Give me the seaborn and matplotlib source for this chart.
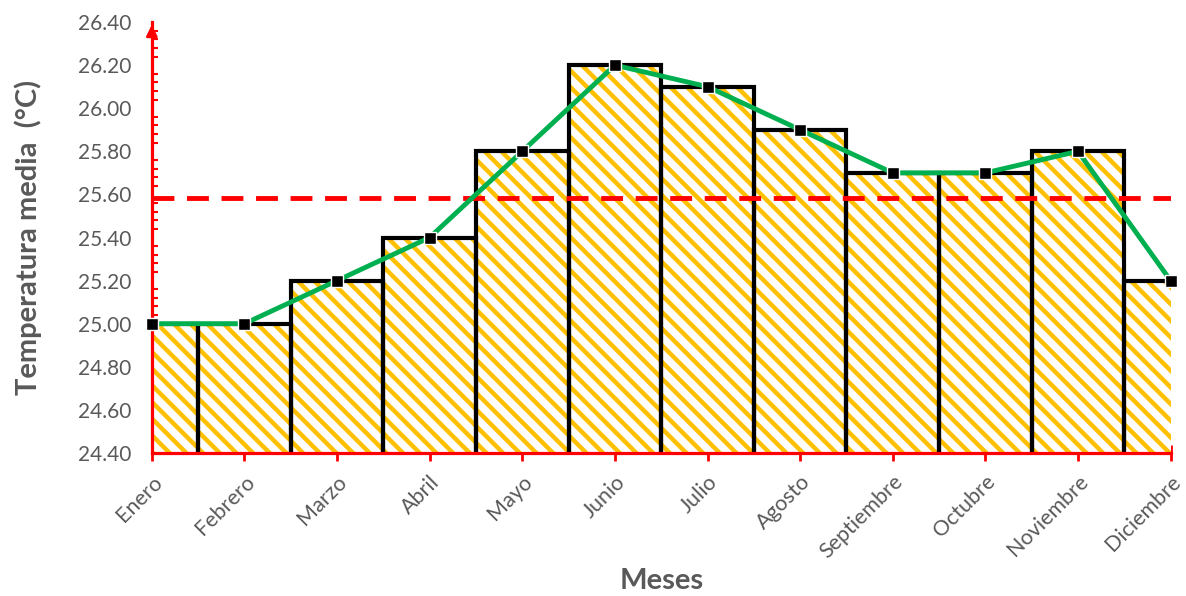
import numpy as np
import pandas as pd
import matplotlib
matplotlib.use("Agg")
import matplotlib.pyplot as plt
from matplotlib.ticker import MultipleLocator, FormatStrFormatter
import seaborn as sns

meses = ["Enero", "Febrero", "Marzo", "Abril", "Mayo", "Junio", "Julio",
         "Agosto", "Septiembre", "Octubre", "Noviembre", "Diciembre"]
temperaturas = [25.0, 25.0, 25.2, 25.4, 25.8, 26.2, 26.1, 25.9, 25.7, 25.7, 25.8, 25.2]

df = pd.DataFrame({"Mes": meses, "Temp": temperaturas})
df["pos"] = np.arange(len(df))

sns.set_style("white")
plt.rcParams["font.family"] = ["Lato", "DejaVu Sans"]
plt.rcParams["hatch.linewidth"] = 3.2

GRIS = "#595959"
ROJO = "#FF0000"
NARANJA = "#FFC000"
VERDE = "#00B050"

fig = plt.figure(figsize=(11.86, 5.96), dpi=100)
ax = fig.add_axes([0.128, 0.24, 0.859, 0.723])

# hatched fill layer
sns.barplot(data=df, x="Mes", y="Temp", width=1, color="white", ax=ax)
for p in ax.containers[0]:
    p.set_facecolor("white")
    p.set_edgecolor(NARANJA)
    p.set_linewidth(0)
    p.set_hatch("\\\\")
    p.set_zorder(1)

# black outline layer
sns.barplot(data=df, x="Mes", y="Temp", width=1, color="white", ax=ax)
for p in ax.containers[1]:
    p.set_facecolor("none")
    p.set_edgecolor("black")
    p.set_linewidth(3)
    p.set_zorder(1.5)

# monthly trend line
sns.lineplot(data=df, x="pos", y="Temp", ax=ax, color=VERDE, linewidth=3.5,
             marker="s", markersize=8.5, markerfacecolor="black",
             markeredgecolor="white", markeredgewidth=1, zorder=4, clip_on=False)

# annual mean
media = float(np.mean(temperaturas))
ax.axhline(media, color=ROJO, linewidth=3.5, linestyle=(0, (4.5, 2.6)), zorder=3)

ax.set_xlim(0, len(meses) - 1)
ax.set_ylim(24.4, 26.4)
ax.yaxis.set_major_locator(MultipleLocator(0.2))
ax.yaxis.set_minor_locator(MultipleLocator(0.04))
ax.yaxis.set_major_formatter(FormatStrFormatter("%.2f"))

for side in ["top", "right"]:
    ax.spines[side].set_visible(False)
for side in ["left", "bottom"]:
    ax.spines[side].set_color(ROJO)
    ax.spines[side].set_linewidth(2.3)
    ax.spines[side].set_zorder(3.5)

ax.tick_params(axis="y", which="major", direction="inout", length=11, width=2,
               color=ROJO, labelcolor=GRIS, labelsize=15, pad=9)
ax.tick_params(axis="y", which="minor", direction="in", length=4, width=1.5,
               color=ROJO, left=True)
ax.tick_params(axis="x", which="major", direction="inout", length=11, width=2,
               color=ROJO, labelcolor=GRIS, labelsize=15.5, pad=8, bottom=True)
ax.set_xticks(df["pos"])
ax.set_xticklabels(meses, rotation=45, ha="right", rotation_mode="anchor")

ax.set_xlabel("Meses", fontsize=21, fontweight="bold", color=GRIS, labelpad=4)
ax.set_ylabel("Temperatura media  (°C)", fontsize=21, fontweight="bold",
              color=GRIS, labelpad=26)

# arrow head at the top of the vertical axis
ax.annotate("", xy=(0, 1.0), xytext=(0, 0.96), xycoords="axes fraction",
            arrowprops=dict(arrowstyle="-|>", color=ROJO, lw=2,
                            mutation_scale=16), zorder=5, annotation_clip=False)

fig.savefig("out.png", dpi=100)
